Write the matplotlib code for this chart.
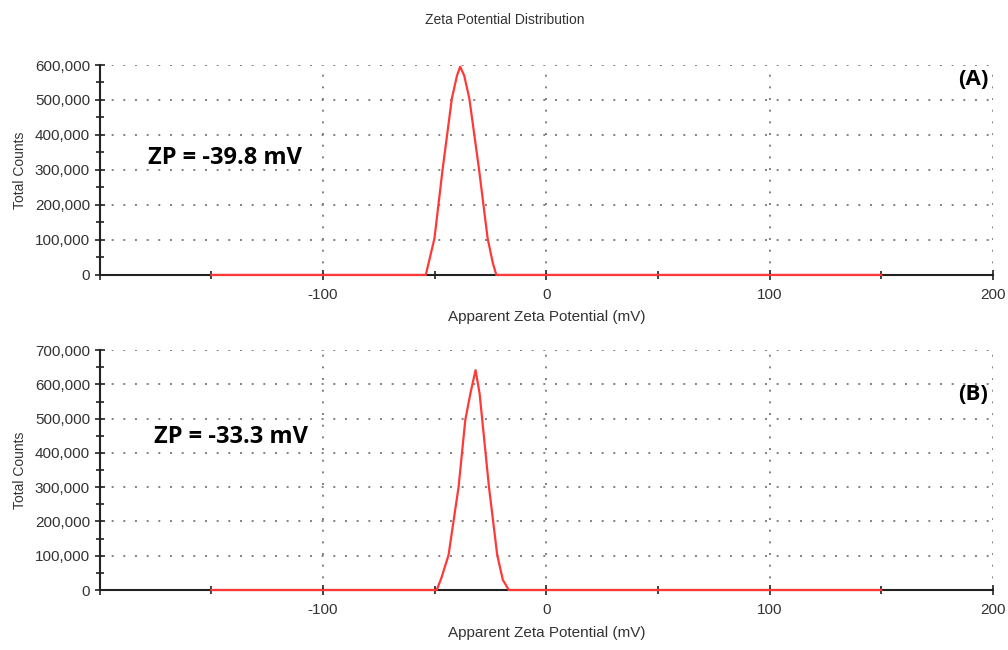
import matplotlib.pyplot as plt
from matplotlib.ticker import MultipleLocator, FuncFormatter

# zeta potential distributions (mV, counts)
zeta_a = [-150, -54.0, -52.5, -50.1, -46.4, -42.3, -40.0, -38.6, -36.8, -34.5, -30.2, -26.3, -24.0, -22.4, 150]
counts_a = [0, 0, 40000, 104800, 304800, 504800, 570000, 595000, 570000, 504800, 304800, 104800, 35000, 0, 0]

zeta_b = [-150, -49.1, -47.0, -43.8, -39.3, -36.3, -34.0, -31.7, -29.9, -28.7, -25.7, -22.0, -19.5, -16.8, 150]
counts_b = [0, 0, 35000, 102000, 301000, 496000, 574000, 641700, 574000, 496000, 301000, 102000, 30000, 0, 0]

zp_labels = ["ZP = -39.8 mV", "ZP = -33.3 mV"]
panel_labels = ["(A)", "(B)"]
y_tops = [600000, 700000]

fig = plt.figure(figsize=(10.08, 6.5), dpi=100)
plt.rcParams['font.family'] = ['Liberation Sans', 'DejaVu Sans']

ax1 = fig.add_axes([0.099, 0.577, 0.886, 0.323])
ax2 = fig.add_axes([0.099, 0.0923, 0.886, 0.369])

panels = [(ax1, zeta_a, counts_a), (ax2, zeta_b, counts_b)]
for i, (ax, x, y) in enumerate(panels):
    ax.plot(x, y, color='#ff3838', lw=1.6, zorder=3, clip_on=False)
    ax.set_xlim(-200, 200)
    ax.set_ylim(0, y_tops[i])
    ax.xaxis.set_major_locator(MultipleLocator(100))
    ax.xaxis.set_minor_locator(MultipleLocator(50))
    ax.yaxis.set_major_locator(MultipleLocator(100000))
    ax.yaxis.set_minor_locator(MultipleLocator(50000))
    ax.yaxis.set_major_formatter(FuncFormatter(lambda v, p: f"{int(v):,}"))
    ax.xaxis.set_major_formatter(FuncFormatter(lambda v, p: "" if v == -200 else f"{int(v)}"))
    ax.tick_params(which='both', direction='inout', color='#222222', width=1.2)
    ax.tick_params(which='major', length=7, labelsize=11, labelcolor='#333333')
    ax.tick_params(which='minor', length=6)
    ax.tick_params(axis='x', pad=6)
    ax.grid(True, which='major', linestyle=(0, (1, 5)), color='#808080', lw=1.4)
    for s in ['top', 'right']:
        ax.spines[s].set_visible(False)
    ax.spines['left'].set_linewidth(1.5)
    ax.spines['bottom'].set_linewidth(1.5)
    ax.spines['left'].set_color('#222222')
    ax.spines['bottom'].set_color('#222222')
    ax.set_xlabel('Apparent Zeta Potential (mV)', fontsize=11, color='#333333', labelpad=6)
    ax.set_ylabel('Total Counts', fontsize=10, color='#333333', labelpad=6)
    ax.text(-178.5 if i == 0 else -175.5, y_tops[i] * (0.557 if i == 0 else 0.637), zp_labels[i],
            fontsize=17, fontweight='bold', family=['Open Sans', 'DejaVu Sans'], va='center', ha='left')
    ax.text(198, y_tops[i] * (0.93 if i == 0 else 0.815), panel_labels[i], fontsize=16,
            fontweight='bold', family=['Open Sans', 'DejaVu Sans'], va='center', ha='right')

fig.text(0.501, 0.969, 'Zeta Potential Distribution', fontsize=10, color='#333333', ha='center', va='center')

fig.savefig('out.png', dpi=100)
